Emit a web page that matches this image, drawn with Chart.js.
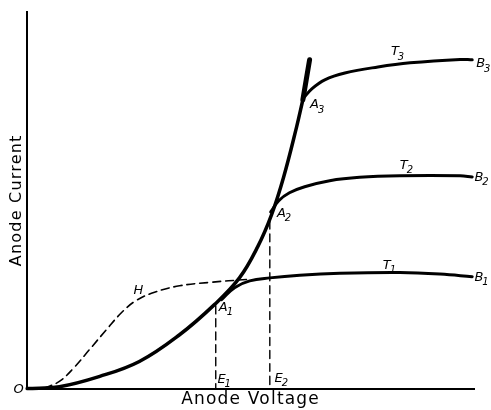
<!DOCTYPE html>
<html>
<head>
<meta charset="utf-8">
<script src="https://cdn.jsdelivr.net/npm/chart.js@4"></script>
<style>
html,body{margin:0;padding:0;background:#fff;}
#wrap{width:491px;height:410px;position:relative;}
</style>
</head>
<body>
<div id="wrap"><canvas id="c"></canvas></div>
<script>
// Space-charge (main) curve: anode voltage vs anode current (arbitrary units 0-100)
const mainX = [0, 7.2, 16.1, 25.1, 34.1, 41.9, 47.5, 51.6, 54.7, 57.4, 60.3, 61.7];
const mainY = [0, 0.5, 3.2, 7.2, 14.3, 22.3, 29.4, 37.7, 46.2, 56.2, 69.5, 76.7];
// thick top end of main curve
const topX = [61.7, 63.2];
const topY = [76.7, 87.3];
// Saturation curves T1, T2, T3
const t1X = [43.5, 46.4, 49.8, 54.3, 61.0, 70.0, 83.4, 92.4, 99.6];
const t1Y = [23.6, 26.8, 28.6, 29.4, 30.1, 30.6, 30.8, 30.4, 29.7];
const t2X = [54.5, 56.3, 58.7, 62.1, 67.7, 74.4, 83.4, 96.9, 99.6];
const t2Y = [46.9, 49.9, 52.0, 53.6, 55.2, 56.1, 56.5, 56.5, 56.2];
const t3X = [61.9, 63.7, 66.6, 71.1, 78.5, 85.7, 96.9, 99.6];
const t3Y = [77.2, 79.6, 82.0, 83.8, 85.4, 86.5, 87.4, 87.3];
// Dashed curve H
const hX = [3.8, 7.2, 10.5, 13.9, 17.7, 21.3, 24.4, 28.5, 34.1, 40.8, 49.3];
const hY = [0.1, 1.9, 5.6, 10.3, 15.6, 20.4, 23.4, 25.6, 27.3, 28.2, 29.0];
// Voltage drop lines E1, E2
const e1X = [42.2, 42.2];
const e1Y = [22.0, 0];
const e2X = [54.3, 54.3];
const e2Y = [44.6, 0];
// Point labels
const labelMain = ['O', 'H', 'A', 'A', 'A', 'T', 'T', 'T', 'B', 'B', 'B', 'E', 'E'];
const labelSub  = ['',  '',  '1', '2', '3', '1', '2', '3', '1', '2', '3', '1', '2'];
const labelX = [-1.9, 24.9, 44.6, 57.6, 65.0, 81.2, 85.0, 83.0, 101.8, 101.8, 102.2, 44.2, 57.0];
const labelY = [-0.3, 26.0, 21.6, 46.4, 75.3, 32.6, 59.2, 89.4, 29.4, 56.0, 86.2, 2.4, 2.7];
const xTitle = 'Anode Voltage';
const yTitle = 'Anode Current';

function pts(xs, ys){ return xs.map((x,i)=>({x:x, y:ys[i]})); }

const labelPlugin = {
  id: 'labels',
  beforeDraw(chart){ chart.ctx.letterSpacing = '1.2px'; },
  afterDraw(chart){
    const ctx = chart.ctx, xs = chart.scales.x, ys = chart.scales.y;
    ctx.save();
    ctx.letterSpacing = '0px';
    ctx.fillStyle = '#000';
    ctx.textBaseline = 'middle';
    for (let i = 0; i < labelMain.length; i++){
      const px = xs.getPixelForValue(labelX[i]);
      const py = ys.getPixelForValue(labelY[i]);
      ctx.font = 'italic 13px "DejaVu Sans"';
      const w1 = ctx.measureText(labelMain[i]).width;
      ctx.font = 'italic 10px "DejaVu Sans"';
      const w2 = labelSub[i] ? ctx.measureText(labelSub[i]).width : 0;
      const left = px - (w1 + w2) / 2;
      ctx.font = 'italic 13px "DejaVu Sans"';
      ctx.textAlign = 'left';
      ctx.fillText(labelMain[i], left, py);
      if (labelSub[i]){
        ctx.font = 'italic 10px "DejaVu Sans"';
        ctx.fillText(labelSub[i], left + w1 - 1, py + 5);
      }
    }
    ctx.restore();
  }
};

const common = {showLine:true, pointRadius:0, borderColor:'#000', fill:false, clip:false, tension:0.4, borderCapStyle:'round', borderJoinStyle:'round'};

new Chart(document.getElementById('c'), {
  type: 'scatter',
  data: {
    datasets: [
      Object.assign({data: pts(mainX, mainY), borderWidth:3.5}, common),
      Object.assign({data: pts(topX, topY), borderWidth:5}, common),
      Object.assign({data: pts(t1X, t1Y), borderWidth:3}, common),
      Object.assign({data: pts(t2X, t2Y), borderWidth:3}, common),
      Object.assign({data: pts(t3X, t3Y), borderWidth:3}, common),
      Object.assign({data: pts(hX, hY), borderWidth:1.6, borderDash:[8,5], borderCapStyle:'butt'}, common),
      Object.assign({data: pts(e1X, e1Y), borderWidth:1.4, borderDash:[8,5], borderCapStyle:'butt', tension:0}, common),
      Object.assign({data: pts(e2X, e2Y), borderWidth:1.4, borderDash:[8,5], borderCapStyle:'butt', tension:0}, common)
    ]
  },
  options: {
    responsive: true,
    maintainAspectRatio: false,
    animation: false,
    events: [],
    layout: {padding: {top: 12, right: 17, bottom: 0, left: 0}},
    plugins: {legend: {display:false}, tooltip: {enabled:false}},
    scales: {
      x: {
        type: 'linear', min: 0, max: 100,
        grid: {display:false, drawTicks:false},
        border: {display:true, color:'#000', width:2},
        ticks: {display:false},
        title: {display:true, text: xTitle, color:'#000',
          font: {family:'"DejaVu Sans"', size:17, lineHeight:1.2},
          padding: {top:1, bottom:0}}
      },
      y: {
        type: 'linear', min: 0, max: 100,
        grid: {display:false, drawTicks:false},
        border: {display:true, color:'#000', width:2},
        ticks: {display:false},
        title: {display:true, text: yTitle, color:'#000',
          font: {family:'"DejaVu Sans"', size:16, lineHeight:1.2},
          padding: {top:7, bottom:1}}
      }
    }
  },
  plugins: [labelPlugin]
});
</script>
</body>
</html>
